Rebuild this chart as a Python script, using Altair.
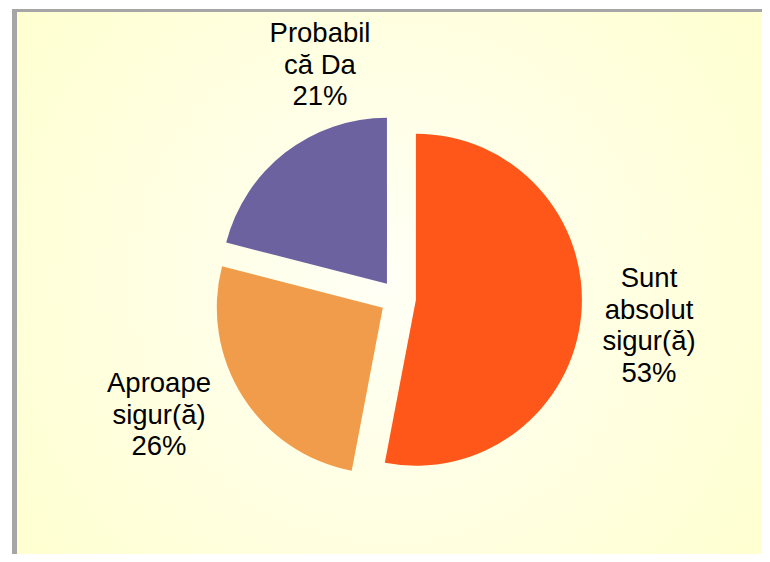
import altair as alt
import pandas as pd

# ---- data ----
categories = ["Sunt absolut sigur(ă)", "Aproape sigur(ă)", "Probabil că Da"]
label_lines = ["Sunt\nabsolut\nsigur(ă)", "Aproape\nsigur(ă)", "Probabil\ncă Da"]
values = [53, 26, 21]
colors = ["#FF5719", "#F09C4A", "#6C62A0"]

# ---- layout (pixels in view coordinates) ----
W, H = 754, 546
CX, CY = 390, 290          # pie centre
R = 166                    # pie radius
EXPLODE = 18               # slice explosion distance
LABEL_POS = {              # first-line baseline anchor of each label
    "Sunt absolut sigur(ă)": (641, 279),
    "Aproape sigur(ă)": (151, 384),
    "Probabil că Da": (312, 34),
}

df = pd.DataFrame({
    "cat": categories,
    "lab": label_lines,
    "value": values,
    "order": list(range(len(values))),
    "lx": [LABEL_POS[c][0] for c in categories],
    "ly": [LABEL_POS[c][1] for c in categories],
})

base = alt.Chart(df).transform_window(
    cum="sum(value)", sort=[alt.SortField("order")]
).transform_joinaggregate(
    total="sum(value)"
).transform_calculate(
    start="2*PI*(datum.cum - datum.value)/datum.total",
    end="2*PI*datum.cum/datum.total",
).transform_calculate(
    mid="(datum.start + datum.end)/2"
).transform_calculate(
    px=f"{CX} + {EXPLODE}*sin(datum.mid)",
    py=f"{CY} - {EXPLODE}*cos(datum.mid)",
    txt="datum.lab + '\\n' + datum.value + '%'",
)

frame = alt.Chart(df).mark_rect(color="#A6A6A6").encode(
    x=alt.value(4), x2=alt.value(W), y=alt.value(1), y2=alt.value(H)
)
bg = alt.Chart(df).mark_rect(
    fill=alt.RadialGradient(
        gradient="radial",
        x1=0.5, y1=0.5, r1=0.0,
        x2=0.5, y2=0.5, r2=0.75,
        stops=[
            alt.GradientStop(offset=0, color="#FFFFF6"),
            alt.GradientStop(offset=1, color="#FFFFC8"),
        ],
    )
).encode(
    x=alt.value(9), x2=alt.value(W), y=alt.value(4), y2=alt.value(H)
)

pie = base.mark_arc(outerRadius=R, stroke=None).encode(
    theta=alt.Theta("start:Q", scale=None),
    theta2=alt.Theta2("end:Q"),
    x=alt.X("px:Q", scale=None),
    y=alt.Y("py:Q", scale=None),
    color=alt.Color("cat:N", scale=alt.Scale(domain=categories, range=colors), legend=None),
)

labels = base.mark_text(
    font="Liberation Sans", fontSize=27.5, lineBreak="\n", lineHeight=31.5,
    align="center", baseline="alphabetic", color="#000000",
).encode(
    x=alt.X("lx:Q", scale=None),
    y=alt.Y("ly:Q", scale=None),
    text="txt:N",
)

chart = alt.layer(frame, bg, pie, labels).properties(
    width=W, height=H, padding=0, autosize=alt.AutoSizeParams(type="none"),
    background="#FFFFFF",
).configure_view(stroke=None)

chart.save("out.html", embed_options={"renderer": "svg", "actions": False})
